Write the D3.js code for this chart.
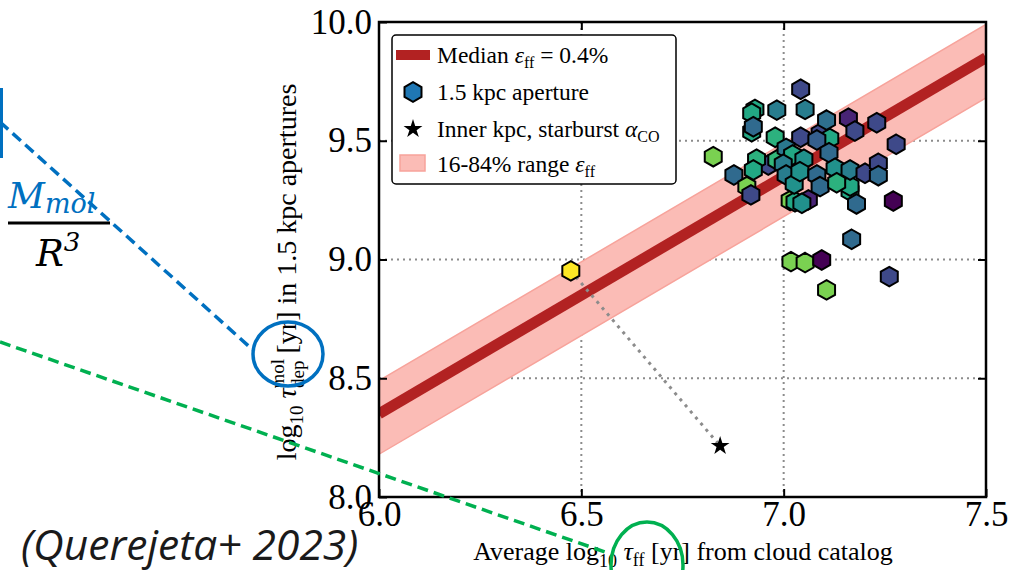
<!DOCTYPE html>
<html>
<head>
<meta charset="utf-8">
<script src="https://cdn.jsdelivr.net/npm/d3@7"></script>
<style>
  body { margin: 0; background: #fff; }
  svg { display: block; }
</style>
</head>
<body>
<div id="chart"></div>
<script>
// 1.5 kpc apertures: mean log tau_ff (x), log tau_dep (y), colour value (0..1, viridis)
var apX = [6.921, 6.929, 6.921, 6.962, 7.090, 7.114, 6.983, 7.164, 7.164, 7.061, 7.016, 7.028,
           7.042, 7.053, 6.983, 6.925, 6.979, 7.106, 7.160, 7.176, 7.230, 7.278, 7.042, 7.082,
           7.112, 6.826, 6.933, 6.925, 6.877, 6.909, 6.919, 7.006, 7.022, 7.050, 6.999, 7.006,
           7.026, 7.040, 7.082, 7.090, 7.127, 7.131, 7.164, 7.201, 7.234, 7.234, 7.180, 7.271,
           7.045, 7.168, 7.018, 7.053, 7.094, 7.261, 7.106, 6.474];
var apY = [9.538, 9.632, 9.616, 9.398, 9.531, 9.510, 9.419, 9.288, 9.309, 9.251, 9.248, 9.243,
           9.717, 9.632, 9.629, 9.559, 9.515, 9.587, 9.595, 9.541, 9.576, 9.485, 9.515, 9.503,
           9.450, 9.433, 9.422, 9.377, 9.356, 9.307, 9.272, 9.468, 9.440, 9.422, 9.401, 9.356,
           9.318, 9.370, 9.356, 9.307, 9.384, 9.323, 9.377, 9.363, 9.405, 9.353, 9.234, 9.246,
           9.237, 9.085, 8.991, 8.987, 8.998, 8.928, 8.872, 8.952];
var apC = [0.60, 0.60, 0.60, 0.22, 0.22, 0.60, 0.66, 0.60, 0.60, 0.10, 0.80, 0.60,
           0.22, 0.42, 0.42, 0.34, 0.64, 0.36, 0.10, 0.22, 0.22, 0.22, 0.22, 0.30,
           0.34, 0.80, 0.64, 0.60, 0.34, 0.80, 0.22, 0.40, 0.60, 0.50, 0.42, 0.42,
           0.50, 0.50, 0.34, 0.34, 0.50, 0.64, 0.42, 0.22, 0.22, 0.34, 0.34, 0.00,
           0.50, 0.34, 0.80, 0.80, 0.00, 0.22, 0.80, 1.00];

// inner kpc with starburst alpha_CO, linked to the yellow aperture
var starX = [6.843];
var starY = [8.215];
var linkX = [6.474, 6.843];
var linkY = [8.952, 8.215];

// tau_dep = tau_ff / eps_ff  -> offsets in log space
var medianOffset = 2.35;
var bandLow = 2.18;
var bandHigh = 2.49;
var lineX = [6.0, 7.5];

var xTicks = [6.0, 6.5, 7.0, 7.5];
var yTicks = [8.0, 8.5, 9.0, 9.5, 10.0];
var xGrid = [6.5, 7.0];
var yGrid = [8.5, 9.0, 9.5];

var W = 1033, H = 570;
var pLeft = 379, pRight = 986, pTop = 22, pBottom = 497;
var serif = "'Liberation Serif', 'Times New Roman', serif";

var x = d3.scaleLinear().domain([6.0, 7.5]).range([pLeft, pRight]);
var y = d3.scaleLinear().domain([8.0, 10.0]).range([pBottom, pTop]);
var color = d3.scaleSequential(d3.interpolateViridis).domain([0, 1]);

var hexagon = {
  draw: function(ctx, size) {
    var r = Math.sqrt(size / (1.5 * Math.sqrt(3)));
    for (var k = 0; k < 6; k++) {
      var a = Math.PI / 3 * k - Math.PI / 2;
      if (k === 0) ctx.moveTo(r * Math.cos(a), r * Math.sin(a));
      else ctx.lineTo(r * Math.cos(a), r * Math.sin(a));
    }
    ctx.closePath();
  }
};

var svg = d3.select('#chart').append('svg')
  .attr('width', W)
  .attr('height', H)
  .style('background', '#fff');

svg.append('clipPath').attr('id', 'plot')
  .append('rect')
  .attr('x', pLeft).attr('y', pTop)
  .attr('width', pRight - pLeft).attr('height', pBottom - pTop);

// grid
var grid = svg.append('g')
  .attr('stroke', '#8c8c8c')
  .attr('stroke-width', 2)
  .attr('stroke-dasharray', '2,4');
grid.selectAll('.gx').data(xGrid).enter().append('line')
  .attr('x1', function(d) { return x(d); }).attr('x2', function(d) { return x(d); })
  .attr('y1', pTop).attr('y2', pBottom);
grid.selectAll('.gy').data(yGrid).enter().append('line')
  .attr('y1', function(d) { return y(d); }).attr('y2', function(d) { return y(d); })
  .attr('x1', pLeft).attr('x2', pRight);

var plot = svg.append('g').attr('clip-path', 'url(#plot)');

// 16-84% band
plot.append('path')
  .datum(lineX)
  .attr('d', d3.area()
    .x(function(d) { return x(d); })
    .y0(function(d) { return y(d + bandLow); })
    .y1(function(d) { return y(d + bandHigh); }))
  .attr('fill', '#fbbcb6')
  .attr('stroke', '#f7a39b')
  .attr('stroke-width', 1.5);

// median line
plot.append('path')
  .datum(lineX)
  .attr('d', d3.line()
    .x(function(d) { return x(d); })
    .y(function(d) { return y(d + medianOffset); }))
  .attr('fill', 'none')
  .attr('stroke', '#b22222')
  .attr('stroke-width', 11);

// dotted link to the starburst point
plot.append('path')
  .datum(d3.zip(linkX, linkY))
  .attr('d', d3.line()
    .x(function(d) { return x(d[0]); })
    .y(function(d) { return y(d[1]); }))
  .attr('fill', 'none')
  .attr('stroke', '#8c8c8c')
  .attr('stroke-width', 3)
  .attr('stroke-dasharray', '3,5');

// hexagons
plot.selectAll('.hex')
  .data(d3.range(apX.length))
  .enter().append('path')
  .attr('d', d3.symbol().type(hexagon).size(250))
  .attr('transform', function(i) { return 'translate(' + x(apX[i]) + ',' + y(apY[i]) + ')'; })
  .attr('fill', function(i) { return color(apC[i]); })
  .attr('stroke', '#000')
  .attr('stroke-width', 2);

plot.selectAll('.star')
  .data(d3.range(starX.length))
  .enter().append('path')
  .attr('d', d3.symbol().type(d3.symbolStar).size(110))
  .attr('transform', function(i) { return 'translate(' + x(starX[i]) + ',' + y(starY[i]) + ')'; })
  .attr('fill', '#000');

// axes, ticks pointing inward
function styleAxis(g) {
  g.select('.domain').remove();
  g.selectAll('.tick line').attr('stroke', '#000').attr('stroke-width', 2);
  g.selectAll('.tick text')
    .attr('fill', '#000')
    .style('font-family', serif)
    .style('font-size', '35px');
}

svg.append('g')
  .attr('transform', 'translate(0,' + pBottom + ')')
  .call(d3.axisBottom(x).tickValues(xTicks).tickFormat(d3.format('.1f')).tickSize(-8).tickPadding(4))
  .call(styleAxis);
svg.append('g')
  .attr('transform', 'translate(0,' + pTop + ')')
  .call(d3.axisTop(x).tickValues(xGrid).tickFormat('').tickSize(-8))
  .call(styleAxis);
svg.append('g')
  .attr('transform', 'translate(' + pLeft + ',0)')
  .call(d3.axisLeft(y).tickValues(yTicks).tickFormat(d3.format('.1f')).tickSize(-8).tickPadding(7))
  .call(styleAxis);
svg.append('g')
  .attr('transform', 'translate(' + pRight + ',0)')
  .call(d3.axisRight(y).tickValues(yGrid).tickFormat('').tickSize(-8))
  .call(styleAxis);

svg.append('rect')
  .attr('x', pLeft).attr('y', pTop)
  .attr('width', pRight - pLeft).attr('height', pBottom - pTop)
  .attr('fill', 'none')
  .attr('stroke', '#000')
  .attr('stroke-width', 2.5);

// axis labels
var xl = svg.append('text')
  .attr('x', 683).attr('y', 560)
  .attr('text-anchor', 'middle')
  .style('font-family', serif)
  .style('font-size', '26px');
xl.append('tspan').text('Average log');
xl.append('tspan').style('font-size', '18px').attr('dy', 7).text('10');
xl.append('tspan').attr('dy', -7).text(' ');
xl.append('tspan').style('font-style', 'italic').text('τ');
xl.append('tspan').style('font-size', '18px').attr('dy', 6).text('ff');
xl.append('tspan').attr('dy', -6).text(' [yr] from cloud catalog');

var yl = svg.append('text')
  .attr('transform', 'translate(296,272) rotate(-90)')
  .attr('text-anchor', 'middle')
  .style('font-family', serif)
  .style('font-size', '28px');
yl.append('tspan').text('log');
yl.append('tspan').style('font-size', '19px').attr('dy', 7).text('10');
yl.append('tspan').attr('dy', -7).text(' ');
yl.append('tspan').style('font-style', 'italic').text('τ');
yl.append('tspan').style('font-size', '19px').attr('dy', -12).text('mol');
yl.append('tspan').style('font-size', '19px').attr('dx', -29).attr('dy', 20).text('dep');
yl.append('tspan').attr('dy', -8).text(' [yr] in 1.5 kpc apertures');

// legend
var lg = svg.append('g').style('font-family', serif).style('font-size', '23.5px');
lg.append('rect')
  .attr('x', 392).attr('y', 35).attr('width', 284).attr('height', 149).attr('rx', 4)
  .attr('fill', '#fff').attr('stroke', '#000').attr('stroke-width', 1.5);
lg.append('line')
  .attr('x1', 396).attr('x2', 430).attr('y1', 55).attr('y2', 55)
  .attr('stroke', '#b22222').attr('stroke-width', 10);
lg.append('path')
  .attr('d', d3.symbol().type(hexagon).size(250))
  .attr('transform', 'translate(413,92)')
  .attr('fill', '#1f77b4').attr('stroke', '#000').attr('stroke-width', 2);
lg.append('path')
  .attr('d', d3.symbol().type(d3.symbolStar).size(110))
  .attr('transform', 'translate(413,129)')
  .attr('fill', '#000');
lg.append('rect')
  .attr('x', 400).attr('y', 155).attr('width', 25).attr('height', 16)
  .attr('fill', '#fbbcb6').attr('stroke', '#f7a39b').attr('stroke-width', 1.5);

var t1 = lg.append('text').attr('x', 437).attr('y', 63);
t1.append('tspan').text('Median ');
t1.append('tspan').style('font-style', 'italic').text('ε');
t1.append('tspan').style('font-size', '16px').attr('dy', 5).text('ff');
t1.append('tspan').attr('dy', -5).text(' = 0.4%');
lg.append('text').attr('x', 437).attr('y', 100).text('1.5 kpc aperture');
var t3 = lg.append('text').attr('x', 437).attr('y', 137);
t3.append('tspan').text('Inner kpc, starburst ');
t3.append('tspan').style('font-style', 'italic').text('α');
t3.append('tspan').style('font-size', '16px').attr('dy', 5).text('CO');
var t4 = lg.append('text').attr('x', 437).attr('y', 172);
t4.append('tspan').text('16-84% range ');
t4.append('tspan').style('font-style', 'italic').text('ε');
t4.append('tspan').style('font-size', '16px').attr('dy', 5).text('ff');

// slide annotations
var blue = '#0070c0', green = '#00b050';
var ann = svg.append('g');
ann.append('line').attr('x1', 1.5).attr('x2', 1.5).attr('y1', 88).attr('y2', 158)
  .attr('stroke', blue).attr('stroke-width', 3);
ann.append('line').attr('x1', 0).attr('y1', 122).attr('x2', 253).attr('y2', 350)
  .attr('stroke', blue).attr('stroke-width', 3.5).attr('stroke-dasharray', '11,6');
ann.append('line').attr('x1', 0).attr('y1', 342).attr('x2', 608).attr('y2', 553)
  .attr('stroke', green).attr('stroke-width', 3.5).attr('stroke-dasharray', '11,6');
ann.append('ellipse').attr('cx', 288).attr('cy', 354).attr('rx', 35).attr('ry', 32)
  .attr('fill', 'none').attr('stroke', blue).attr('stroke-width', 3.5);
ann.append('ellipse').attr('cx', 647).attr('cy', 565).attr('rx', 36).attr('ry', 43)
  .attr('fill', 'none').attr('stroke', green).attr('stroke-width', 3.5);

var mm = ann.append('text').attr('x', 8).attr('y', 208)
  .style('font-family', "'DejaVu Serif', serif").style('font-style', 'italic')
  .attr('fill', blue).style('font-size', '36px');
mm.append('tspan').text('M');
mm.append('tspan').style('font-size', '27px').attr('dy', 5).text('mol');
ann.append('line').attr('x1', 8).attr('x2', 110).attr('y1', 223).attr('y2', 223)
  .attr('stroke', '#000').attr('stroke-width', 3);
var rr = ann.append('text').attr('x', 36).attr('y', 266)
  .style('font-family', "'DejaVu Serif', serif").style('font-style', 'italic')
  .attr('fill', '#000').style('font-size', '37px');
rr.append('tspan').text('R');
rr.append('tspan').style('font-size', '26px').attr('dy', -15).text('3');

ann.append('text').attr('x', 21).attr('y', 560)
  .style('font-family', "'Open Sans', sans-serif").style('font-style', 'italic')
  .style('font-size', '42.5px').attr('fill', '#1a1a1a')
  .text('(Querejeta+ 2023)');
</script>
</body>
</html>
